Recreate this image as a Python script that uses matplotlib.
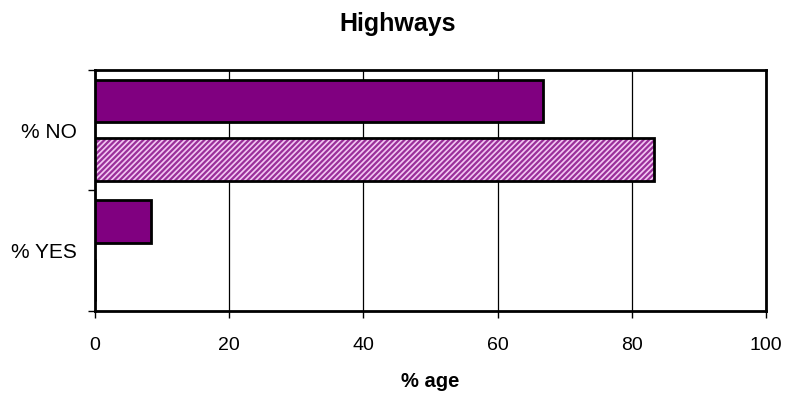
import matplotlib.pyplot as plt
import numpy as np

# Survey answers for highways, two series per answer
categories = ['% YES', '% NO']
series_solid = [8.3, 66.7]
series_hatched = [0.0, 83.3]
x_ticks = [0, 20, 40, 60, 80, 100]

plt.rcParams['font.family'] = ['Liberation Sans', 'DejaVu Sans']
plt.rcParams['hatch.linewidth'] = 1.6

fig = plt.figure(figsize=(7.87, 3.94), dpi=100)
ax = fig.add_axes([0.1207, 0.2107, 0.8526, 0.6116])

pos = np.arange(len(categories)) + 0.5
h = 0.35
off = 0.243

# solid purple series (upper bar in each group)
ax.barh(pos + off, series_solid, height=h, color='#800080',
        edgecolor='black', linewidth=2, zorder=3)

# hatched series: fill + hatch first, then a black outline on top
ax.barh(pos - off, series_hatched, height=h, color='#f2c6f2',
        edgecolor='#9a2f9a', hatch='//////', linewidth=0, zorder=3)
ax.barh(pos - off, series_hatched, height=h, fill=False,
        edgecolor='black', linewidth=2, zorder=4)

ax.set_xlim(0, 100)
ax.set_ylim(0, len(categories))
ax.set_xticks(x_ticks)
ax.set_xticklabels([str(v) for v in x_ticks])

# category boundaries carry the tick marks, labels sit between them
ax.set_yticks(np.arange(len(categories) + 1))
ax.set_yticklabels([])
ax.set_yticks(pos, minor=True)
ax.set_yticklabels(categories, minor=True)

ax.tick_params(axis='x', direction='out', length=5, width=1, labelsize=14, pad=14)
ax.tick_params(axis='y', which='major', direction='out', length=5, width=1)
ax.tick_params(axis='y', which='minor', length=0, labelsize=15, pad=13)

ax.xaxis.grid(True, color='black', linewidth=0.9, zorder=1)
ax.set_axisbelow(True)
for s in ax.spines.values():
    s.set_linewidth(2)
    s.set_color('black')

ax.set_xlabel('% age', fontsize=14.5, fontweight='bold', labelpad=13)
fig.suptitle('Highways', fontsize=18, fontweight='bold', x=0.505, y=0.97)

plt.savefig('out.png', dpi=100)
